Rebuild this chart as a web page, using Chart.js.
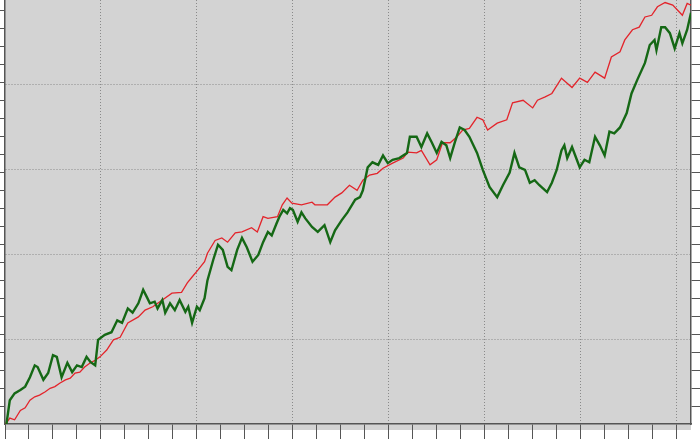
<!DOCTYPE html>
<html>
<head>
<meta charset="utf-8">
<script src="https://cdn.jsdelivr.net/npm/chart.js@4.4.1/dist/chart.umd.min.js"></script>
<style>
body { margin: 0; background: #fff; }
canvas { display: block; }
</style>
</head>
<body>
<canvas id="walk" width="700" height="439"></canvas>
<script>
const redX = [0, 2, 5, 10, 16, 21, 26, 31, 36, 42, 47, 52, 57, 63, 68, 73, 78, 83, 89, 94,
  99, 106, 113, 120, 128, 139, 146, 154, 164, 174, 184, 190, 195, 201, 208, 211, 219, 226, 232, 240,
  247, 257, 263, 269, 274, 284, 289, 294, 299, 309, 320, 323, 336, 344, 351, 359, 367, 373, 380, 388,
  394, 404, 415, 420, 429, 434, 443, 450, 456, 464, 471, 477, 484, 492, 498, 503, 513, 523, 529, 540,
  550, 555, 563, 570, 580, 591, 599, 607, 615, 625, 632, 641, 646, 654, 661, 667, 674, 680, 688, 696,
  706, 711, 715];
const redY = [0, 2, 7, 5, 16, 19, 28, 32, 34, 38, 42, 44, 48, 52, 54, 60, 61, 67, 72, 75,
  79, 87, 99, 102, 119, 126, 134, 138, 146, 154, 155, 166, 173, 181, 191, 201, 216, 219, 214, 225,
  226, 231, 226, 244, 242, 244, 258, 266, 260, 258, 261, 258, 258, 267, 272, 281, 275, 287, 293, 295,
  301, 307, 313, 320, 319, 322, 305, 311, 331, 331, 338, 346, 348, 361, 358, 346, 354, 358, 378, 381,
  372, 381, 385, 389, 407, 396, 407, 402, 414, 407, 432, 438, 452, 464, 467, 479, 481, 491, 496, 493,
  481, 495, 493];

const greenX = [1, 5, 10, 16, 21, 26, 31, 34, 40, 45, 50, 54, 59, 65, 70, 75, 80, 85, 89, 94,
  97, 104, 111, 117, 122, 128, 133, 139, 144, 148, 151, 156, 159, 164, 167, 172, 177, 182, 188, 191,
  195, 200, 203, 208, 211, 217, 222, 227, 232, 236, 242, 247, 252, 258, 264, 269, 274, 278, 283, 286,
  290, 294, 297, 300, 305, 309, 313, 320, 326, 333, 339, 344, 351, 357, 365, 370, 373, 378, 383, 389,
  394, 399, 404, 411, 419, 422, 429, 434, 440, 445, 450, 455, 460, 464, 469, 474, 479, 484, 492, 498,
  505, 513, 519, 526, 531, 536, 542, 547, 552, 557, 565, 570, 575, 580, 583, 586, 591, 596, 599, 604,
  609, 615, 620, 625, 630, 635, 641, 648, 653, 659, 667, 672, 677, 679, 684, 688, 693, 698, 703, 706,
  711, 715];
const greenY = [-4, 28, 36, 40, 44, 55, 69, 67, 52, 60, 81, 79, 55, 72, 61, 69, 67, 79, 73, 69,
  99, 105, 108, 122, 119, 136, 131, 142, 158, 149, 142, 144, 136, 146, 131, 142, 134, 146, 132, 138,
  119, 138, 134, 148, 169, 193, 211, 205, 185, 181, 205, 219, 208, 191, 199, 214, 226, 222, 236, 244,
  252, 248, 254, 252, 238, 249, 242, 232, 226, 234, 214, 228, 240, 249, 264, 267, 275, 302, 308, 305,
  316, 307, 311, 313, 319, 338, 338, 326, 342, 331, 319, 332, 328, 313, 332, 349, 346, 338, 319, 299,
  279, 267, 281, 296, 319, 302, 299, 284, 287, 281, 273, 284, 299, 322, 328, 313, 326, 311, 302, 311,
  308, 338, 328, 316, 344, 342, 349, 366, 389, 405, 425, 446, 452, 440, 467, 467, 460, 442, 460, 448,
  464, 484];

const xMax = 715;
const yMax = 499;
const majorStep = 100;
const yMinorStep = 100 * 18 / 85;

const axisColor = "#555";
const gridColor = "#8a8a8a";

function points(xs, ys) {
  return xs.map((x, i) => ({ x: x, y: ys[i] }));
}

function isMajor(v) {
  return v > 0 && Math.abs(v % majorStep) < 0.01;
}

function yMinorTicks() {
  let t = [];
  for (let v = yMinorStep; v < yMax; v += yMinorStep) t.push(v);
  return t;
}

const plotBg = {
  id: "plotBg",
  beforeDraw(chart) {
    const a = chart.chartArea;
    const ctx = chart.ctx;
    ctx.save();
    ctx.fillStyle = "#d3d3d3";
    ctx.fillRect(a.left, a.top, a.right - a.left, a.bottom - a.top + 6);
    ctx.restore();
  },
};

new Chart(document.getElementById("walk"), {
  type: "line",
  data: {
    datasets: [
      {
        data: points(greenX, greenY),
        borderColor: "#156815",
        borderWidth: 2.4,
        pointRadius: 0,
      },
      {
        data: points(redX, redY),
        borderColor: "#e3242b",
        borderWidth: 1.3,
        pointRadius: 0,
      },
    ],
  },
  options: {
    responsive: false,
    animation: false,
    layout: { padding: 0 },
    plugins: { legend: { display: false }, tooltip: { enabled: false } },
    scales: {
      x: {
        type: "linear",
        min: 0,
        max: xMax,
        ticks: { display: false, stepSize: 25, includeBounds: false },
        grid: {
          color: (c) => (c.tick && isMajor(c.tick.value) ? gridColor : "transparent"),
          tickColor: axisColor,
          tickLength: 15,
        },
        border: { color: axisColor, width: 1.5, dash: [1, 2] },
      },
      y: {
        type: "linear",
        position: "left",
        min: 0,
        max: yMax,
        afterBuildTicks: (axis) => {
          axis.ticks = [100, 200, 300, 400]
            .concat(yMinorTicks())
            .sort((a, b) => a - b)
            .map((v) => ({ value: v }));
        },
        ticks: { display: false },
        grid: {
          color: (c) => (c.tick && isMajor(c.tick.value) ? gridColor : "transparent"),
          tickColor: (c) => (c.tick && isMajor(c.tick.value) ? "transparent" : axisColor),
          tickLength: 5,
        },
        border: { color: axisColor, width: 1.5, dash: [1, 2] },
      },
      y2: {
        type: "linear",
        position: "right",
        min: 0,
        max: yMax,
        afterBuildTicks: (axis) => {
          axis.ticks = yMinorTicks().map((v) => ({ value: v }));
        },
        ticks: { display: false },
        grid: { drawOnChartArea: false, tickColor: axisColor, tickLength: 9 },
        border: { color: axisColor, width: 1.5 },
      },
    },
  },
  plugins: [plotBg],
});
</script>
</body>
</html>
